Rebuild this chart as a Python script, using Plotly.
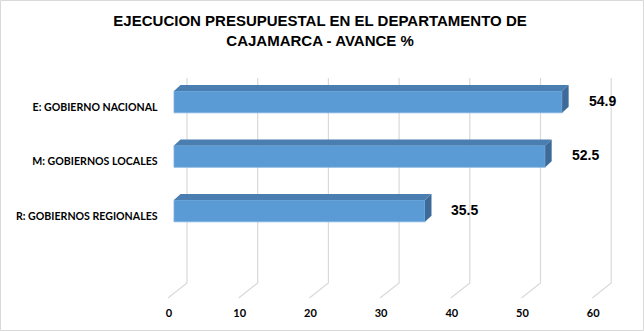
import plotly.graph_objects as go

# Chart data
categories = ["E: GOBIERNO NACIONAL", "M: GOBIERNOS LOCALES", "R: GOBIERNOS REGIONALES"]
avance = [54.9, 52.5, 35.5]
tick_values = [0, 10, 20, 30, 40, 50, 60]
tick_labels = ["0", "10", "20", "30", "40", "50", "60"]

# Page geometry (pixels)
W, H = 644, 331
X0_PX, PXU_X = 174.0, 7.07      # x pixel of value 0 on the bar front plane, pixels per unit
Y0_PX, PXU_Y = 101.9, 54.5      # y pixel of the first category, pixels per category step
X_MIN, X_MAX = -1.9, 66.0
Y_TOP, Y_BOT = -0.5, 3.607

x_dom = [(X0_PX + X_MIN * PXU_X) / W, (X0_PX + X_MAX * PXU_X) / W]
y_dom = [1 - (Y0_PX + Y_BOT * PXU_Y) / H, 1 - (Y0_PX + Y_TOP * PXU_Y) / H]


def px_to_y(py):
    return (py - Y0_PX) / PXU_Y


# 3-D look: depth of the bars and of the back wall, in pixels
BAR_W = 0.4
DEPTH_DX, DEPTH_DY = 6.5 / PXU_X, 6.0 / PXU_Y
WALL_DX = 13.0 / PXU_X
FLOOR_DX = -6.0 / PXU_X
WALL_TOP, WALL_BEND, FLOOR_FRONT = px_to_y(78), px_to_y(283), px_to_y(298)

FRONT = "#5B9BD5"
TOP = "#4A7DB0"
SIDE = "#3D6A98"
GRID = "#D9D9D9"

ypos = list(range(len(categories)))

fig = go.Figure()
fig.add_trace(go.Bar(
    x=avance, y=ypos, orientation="h", width=BAR_W,
    marker=dict(color=FRONT, line=dict(color="#7DB0E0", width=0.8)),
    hoverinfo="skip", showlegend=False,
))

shapes = []
# back wall gridlines with their floor diagonals
for t in tick_values:
    shapes.append(dict(
        type="path", xref="x", yref="y", layer="below",
        path=f"M {t + WALL_DX},{WALL_TOP} L {t + WALL_DX},{WALL_BEND} L {t + FLOOR_DX},{FLOOR_FRONT}",
        line=dict(color=GRID, width=1.2),
    ))

# top and side faces of each bar
for v, p in zip(avance, ypos):
    top = p - BAR_W / 2
    bot = p + BAR_W / 2
    shapes.append(dict(
        type="path", xref="x", yref="y", layer="above",
        path=f"M 0,{top} L {v},{top} L {v + DEPTH_DX},{top - DEPTH_DY} L {DEPTH_DX},{top - DEPTH_DY} Z",
        fillcolor=TOP, line=dict(width=0),
    ))
    shapes.append(dict(
        type="path", xref="x", yref="y", layer="above",
        path=f"M {v},{top} L {v + DEPTH_DX},{top - DEPTH_DY} L {v + DEPTH_DX},{bot - DEPTH_DY} L {v},{bot} Z",
        fillcolor=SIDE, line=dict(width=0),
    ))

# chart border
shapes.append(dict(
    type="rect", xref="paper", yref="paper",
    x0=0.5 / W, x1=1 - 0.5 / W, y0=0.5 / H, y1=1 - 0.5 / H,
    line=dict(color="#D9D9D9", width=1), fillcolor="rgba(0,0,0,0)",
))

annotations = []
for v, p in zip(avance, ypos):
    annotations.append(dict(
        x=v, y=p, xref="x", yref="y", text=f"{v:.1f}", showarrow=False,
        xshift=40, yshift=1,
        font=dict(family="Liberation Sans, Arial", size=14, color="#000000", weight="bold"),
    ))

fig.update_layout(
    width=W, height=H,
    margin=dict(l=0, r=0, t=0, b=0),
    paper_bgcolor="white", plot_bgcolor="white",
    title=dict(
        text="EJECUCION PRESUPUESTAL EN EL DEPARTAMENTO DE<br>CAJAMARCA - AVANCE %",
        x=0.497, xanchor="center", y=1 - 26 / H, yanchor="top",
        font=dict(family="Liberation Sans, Arial", size=15, color="#000000", weight="bold"),
    ),
    xaxis=dict(
        domain=x_dom, range=[X_MIN, X_MAX],
        showgrid=False, zeroline=False, showline=False, ticks="",
        tickvals=tick_values, ticktext=tick_labels,
        ticklabelshift=-5, ticklabelstandoff=7,
        tickfont=dict(family="Lato", size=11, color="#000000", weight="bold"),
    ),
    yaxis=dict(
        domain=y_dom, range=[Y_BOT, Y_TOP],
        showgrid=False, zeroline=False, showline=False, ticks="",
        tickvals=ypos, ticktext=categories,
        ticklabelshift=-5, ticklabelstandoff=2,
        tickfont=dict(family="Lato", size=10.6, color="#000000", weight="bold"),
    ),
    shapes=shapes,
    annotations=annotations,
    bargap=0.6,
)

fig.write_html("out.html")
